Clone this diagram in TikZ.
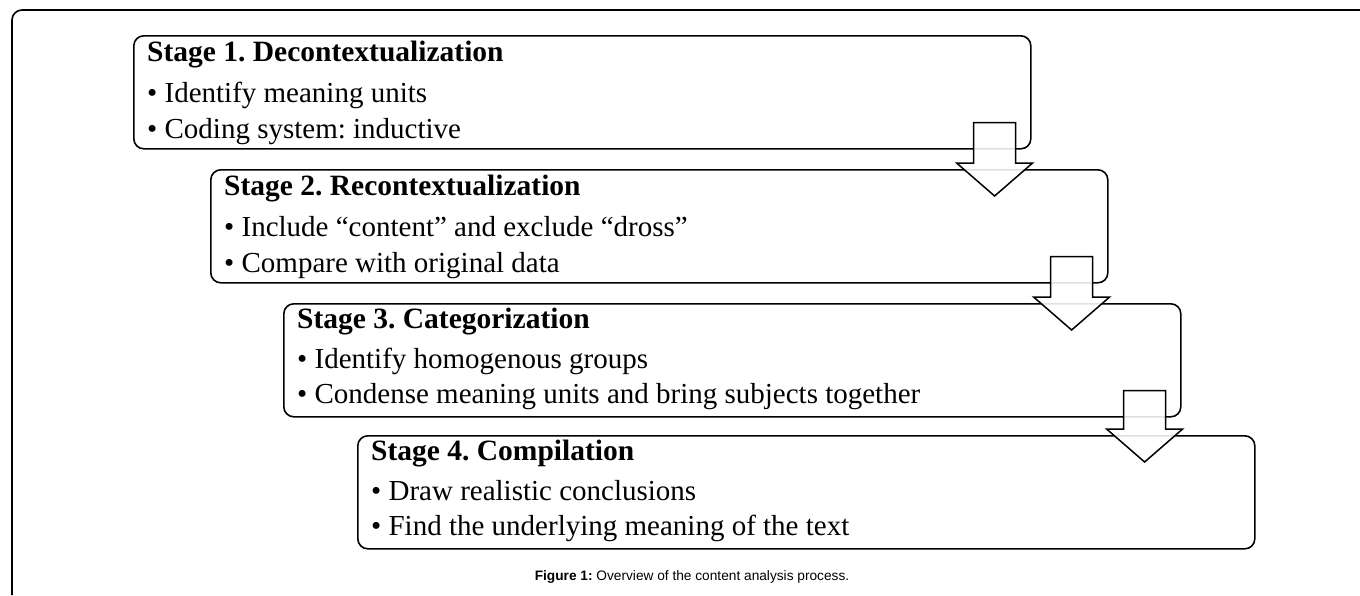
\documentclass[tikz,border=0pt]{standalone}
\usepackage{fontspec}
\setmainfont{Liberation Serif}
\newfontfamily\capfont{Liberation Sans}
\usetikzlibrary{calc}
\frenchspacing

\tikzset{
  stagebox/.style={draw, line width=1.6pt, rounded corners=10pt, anchor=north west,
    inner sep=0pt, minimum width=897pt, minimum height=113pt},
  titletext/.style={anchor=base west, inner sep=0pt, font=\fontsize{29.5}{36}\selectfont\bfseries},
  itemtext/.style={anchor=base west, inner sep=0pt, font=\fontsize{29}{36}\selectfont},
  blockarrow/.style={draw, line width=1.5pt, fill=white, fill opacity=0.88, line join=miter},
  captext/.style={anchor=base, inner sep=0pt, font=\capfont\fontsize{13.7}{16}\selectfont}
}

% block arrow from the bottom of one stage into the next
\newcommand{\stagearrow}[2]{%
  \path (#1.south east) coordinate (a) (#1.south east |- #2.north) coordinate (b);
  \draw[blockarrow] ($(a)+(-58,-27)$) -- ($(a)+(-16,-27)$) -- ($(b)+(-16,-6)$) -- ($(b)+(1,-6)$)
    -- ($(b)+(-37,27)$) -- ($(b)+(-75,-6)$) -- ($(b)+(-58,-6)$) -- cycle;}

\begin{document}
\begin{tikzpicture}[x=1pt,y=-1pt]
\useasboundingbox (0,0) rectangle (1360,595);

%Shape: outer frame
\draw[line width=1.6pt, rounded corners=10pt] (12,595) -- (12,10) -- (1360,10);

%Shape: stage boxes
\node[stagebox] (stage1) at (133,35) {};
\node[stagebox] (stage2) at (210,169) {};
\node[stagebox] (stage3) at (283,303) {};
\node[stagebox] (stage4) at (357,435) {};

% Text Node
\node[titletext] (title1) at ([shift={(14,26)}]stage1.north west) {Stage 1. Decontextualization};
\node[itemtext] (item1a) at ([shift={(14,67)}]stage1.north west) {• Identify meaning units};
\node[itemtext] (item1b) at ([shift={(14,103)}]stage1.north west) {• Coding system: inductive};
% Text Node
\node[titletext] (title2) at ([shift={(14,26)}]stage2.north west) {Stage 2. Recontextualization};
\node[itemtext] (item2a) at ([shift={(14,67)}]stage2.north west) {• Include “content” and exclude “dross”};
\node[itemtext] (item2b) at ([shift={(14,103)}]stage2.north west) {• Compare with original data};
% Text Node
\node[titletext] (title3) at ([shift={(14,25)}]stage3.north west) {Stage 3. Categorization};
\node[itemtext] (item3a) at ([shift={(14,65)}]stage3.north west) {• Identify homogenous groups};
\node[itemtext] (item3b) at ([shift={(14,100)}]stage3.north west) {• Condense meaning units and bring subjects together};
% Text Node
\node[titletext] (title4) at ([shift={(14,25)}]stage4.north west) {Stage 4. Compilation};
\node[itemtext] (item4a) at ([shift={(14,65)}]stage4.north west) {• Draw realistic conclusions};
\node[itemtext] (item4b) at ([shift={(14,100)}]stage4.north west) {• Find the underlying meaning of the text};

%Shape: block arrows
\stagearrow{stage1}{stage2}
\stagearrow{stage2}{stage3}
\stagearrow{stage3}{stage4}

% Text Node
\node[captext] (caption) at (692,580) {\textbf{Figure 1:} Overview of the content analysis process.};
\end{tikzpicture}
\end{document}
